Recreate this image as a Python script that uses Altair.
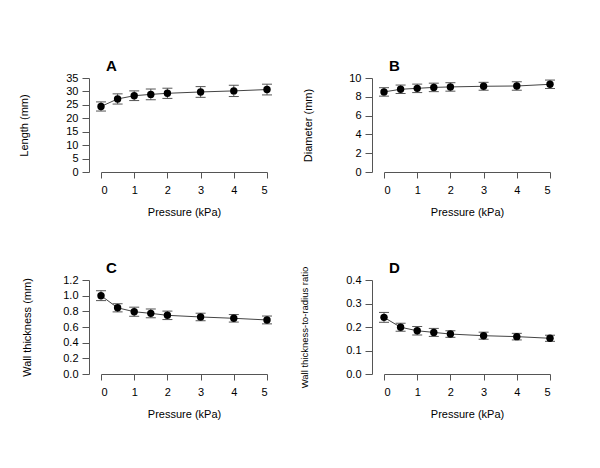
import altair as alt
import pandas as pd

pressure = [0, 0.5, 1, 1.5, 2, 3, 4, 5]

length_mean = [24.4, 27.2, 28.4, 28.9, 29.3, 29.8, 30.2, 30.7]
length_err = [1.7, 1.9, 1.8, 2.0, 1.9, 2.0, 2.1, 2.0]

diam_mean = [8.52, 8.80, 8.90, 9.00, 9.05, 9.12, 9.15, 9.33]
diam_err = [0.45, 0.45, 0.45, 0.45, 0.45, 0.42, 0.45, 0.45]

wall_mean = [1.00, 0.845, 0.795, 0.774, 0.749, 0.728, 0.711, 0.690]
wall_err = [0.063, 0.052, 0.058, 0.056, 0.054, 0.048, 0.048, 0.050]

ratio_mean = [0.241, 0.199, 0.184, 0.177, 0.170, 0.163, 0.159, 0.152]
ratio_err = [0.021, 0.017, 0.018, 0.017, 0.014, 0.015, 0.014, 0.013]

x_ticks = [0, 1, 2, 3, 4, 5]
len_ticks = [0, 5, 10, 15, 20, 25, 30, 35]
diam_ticks = [0, 2, 4, 6, 8, 10]
wall_ticks = [0.0, 0.2, 0.4, 0.6, 0.8, 1.0, 1.2]
ratio_ticks = [0.0, 0.1, 0.2, 0.3, 0.4]

FONT = "Liberation Sans"


def panel(letter, means, errs, ytitle, yticks, fmt, tpad, tsize=11, toff=-2):
    df = pd.DataFrame({
        "x": pressure,
        "y": means,
        "lo": [m - e for m, e in zip(means, errs)],
        "hi": [m + e for m, e in zip(means, errs)],
    })
    base = alt.Chart(df)
    xscale = alt.Scale(domain=[0, 5], nice=False, zero=False)
    xaxis = alt.Axis(values=x_ticks, title="Pressure (kPa)", format="d",
                     tickSize=6, labelPadding=6, titlePadding=11,
                     labelOverlap=False, grid=False)
    yscale = alt.Scale(domain=[yticks[0], yticks[-1]], nice=False)
    yaxis = alt.Axis(values=yticks, title=ytitle, format=fmt, offset=12,
                     tickSize=7, labelPadding=4, titlePadding=tpad, titleFontSize=tsize,
                     labelOverlap=False, grid=False)

    def X():
        return alt.X("x:Q", scale=xscale, axis=xaxis)

    def Y(field):
        return alt.Y(field, type="quantitative", scale=yscale, axis=yaxis)

    line = base.mark_line(color="#444444", strokeWidth=1).encode(x=X(), y=Y("y"))
    bars = base.mark_rule(color="#555555", strokeWidth=1).encode(
        x=X(), y=Y("lo"), y2="hi:Q")
    cap_lo = base.mark_tick(orient="horizontal", size=10, thickness=1,
                            color="#555555", opacity=1).encode(x=X(), y=Y("lo"))
    cap_hi = base.mark_tick(orient="horizontal", size=10, thickness=1,
                            color="#555555", opacity=1).encode(x=X(), y=Y("hi"))
    pts = base.mark_circle(size=55, color="black", opacity=1).encode(x=X(), y=Y("y"))
    return alt.layer(line, bars, cap_lo, cap_hi, pts).properties(
        width=166, height=94,
        title=alt.TitleParams(letter, anchor="start", frame="group", dx=5, offset=toff,
                              fontSize=15, fontWeight="bold", font=FONT, color="black"),
    )


A = panel("A", length_mean, length_err, "Length (mm)", len_ticks, "d", 36)
B = panel("B", diam_mean, diam_err, "Diameter (mm)", diam_ticks, "d", 35)
C = panel("C", wall_mean, wall_err, "Wall thickness (mm)", wall_ticks, ".1f", 30)
D = panel("D", ratio_mean, ratio_err, "Wall thickness-to-radius ratio", ratio_ticks, ".1f",
          36, tsize=9.5, toff=-10)

chart = alt.concat(A, B, C, D, columns=2,
                   spacing=alt.RowColnumber(row=108, column=117),
                   bounds="flush").properties(
    padding={"left": 10, "top": 51, "right": 5, "bottom": 5},
    background="white",
).configure_view(stroke=None).configure_axis(
    grid=False, domainColor="#555555", tickColor="#555555", labelOverlap=False,
    labelFont=FONT, labelFontSize=11, labelColor="black",
    titleFont=FONT, titleFontSize=11, titleFontWeight="normal", titleColor="black",
)

chart.save("out.html", embed_options={"renderer": "svg", "actions": False})
